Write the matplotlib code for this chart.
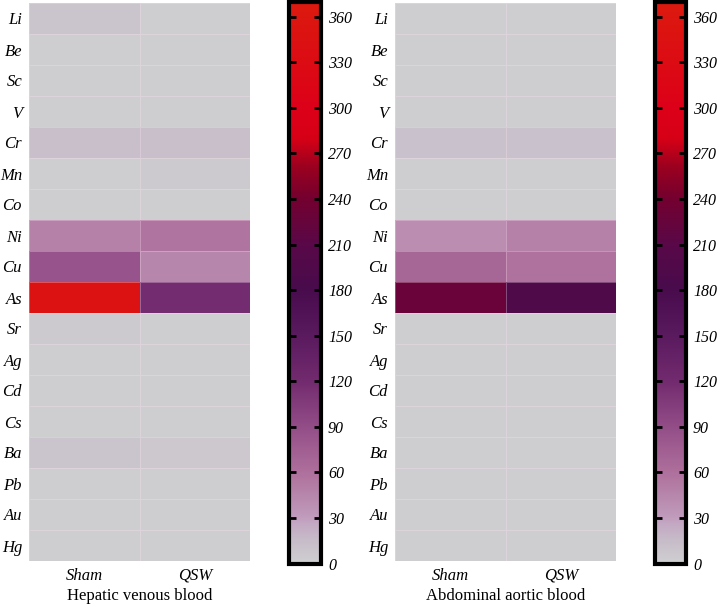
import numpy as np
import matplotlib
matplotlib.use("Agg")
import matplotlib.pyplot as plt
from matplotlib.colors import LinearSegmentedColormap

# elements (rows) and groups (columns)
elements = ['Li', 'Be', 'Sc', 'V', 'Cr', 'Mn', 'Co', 'Ni', 'Cu', 'As',
            'Sr', 'Ag', 'Cd', 'Cs', 'Ba', 'Pb', 'Au', 'Hg']
groups = ['Sham', 'QSW']

hepatic_sham = [9, 2, 2, 2, 13, 2, 2, 48, 85, 345, 4, 2, 2, 2, 9, 2, 2, 2]
hepatic_qsw = [2, 2, 2, 2, 13, 5, 2, 57, 45, 118, 2, 2, 2, 2, 6, 2, 2, 2]
aortic_sham = [2, 2, 2, 2, 11, 2, 2, 40, 68, 228, 2, 2, 2, 2, 2, 2, 2, 2]
aortic_qsw = [2, 2, 2, 2, 11, 2, 2, 48, 58, 192, 2, 2, 2, 2, 2, 2, 2, 2]

titles = ['Hepatic venous blood', 'Abdominal aortic blood']
vmax = 370
cbar_ticks = list(range(0, 361, 30))

# colour scale: grey -> pink -> purple -> dark purple -> dark red -> red
nodes = [
    (0, '#cfcfd1'),
    (12, '#c8c0ca'),
    (26, '#c3a8c3'),
    (30, '#c09cbb'),
    (60, '#ae6f9c'),
    (90, '#924d87'),
    (120, '#722a6e'),
    (150, '#5a1a5e'),
    (180, '#480b4c'),
    (210, '#590848'),
    (240, '#73002f'),
    (262, '#9c001f'),
    (280, '#d60016'),
    (300, '#dc0018'),
    (370, '#dc1a0e'),
]
cmap = LinearSegmentedColormap.from_list(
    'trace', [(v / vmax, c) for v, c in nodes], N=512)

serif = ['Liberation Serif', 'DejaVu Serif']

fig = plt.figure(figsize=(7.21, 6.06), dpi=100)
W, H = 721, 606

def px_axes(x0, y0, x1, y1):
    return fig.add_axes([x0 / W, 1 - y1 / H, (x1 - x0) / W, (y1 - y0) / H])

panels = [
    (np.array([hepatic_sham, hepatic_qsw]).T, (29, 3, 250, 561), (289, 1.5, 321, 563.5)),
    (np.array([aortic_sham, aortic_qsw]).T, (395, 3, 616, 561), (655, 1.5, 686, 563.5)),
]

for (data, hm_box, cb_box), title in zip(panels, titles):
    ax = px_axes(*hm_box)
    im = ax.pcolormesh(data, cmap=cmap, vmin=0, vmax=vmax,
                       edgecolor=(1, 0.9, 0.95, 0.3), linewidth=0.4)
    ax.set_xlim(0, 2)
    ax.set_ylim(len(elements), 0)
    ax.set_yticks(np.arange(len(elements)) + 0.5)
    ax.set_yticklabels(elements, family=serif, style='italic', fontsize=12)
    ax.set_xticks([0.5, 1.5])
    ax.set_xticklabels(groups, family=serif, style='italic', fontsize=12)
    ax.tick_params(length=0, pad=5)
    ax.set_xlabel(title, family=serif, fontsize=12, labelpad=3)
    for s in ax.spines.values():
        s.set_visible(False)

    cax = px_axes(*cb_box)
    cb = fig.colorbar(im, cax=cax, ticks=cbar_ticks)
    cb.outline.set_linewidth(3)
    cax.tick_params(direction='in', length=5, width=2, left=True, right=True,
                    pad=5)
    cax.set_yticklabels([str(t) for t in cbar_ticks], family=serif,
                        style='italic', fontsize=11.5)

fig.savefig('out.png', dpi=100)
